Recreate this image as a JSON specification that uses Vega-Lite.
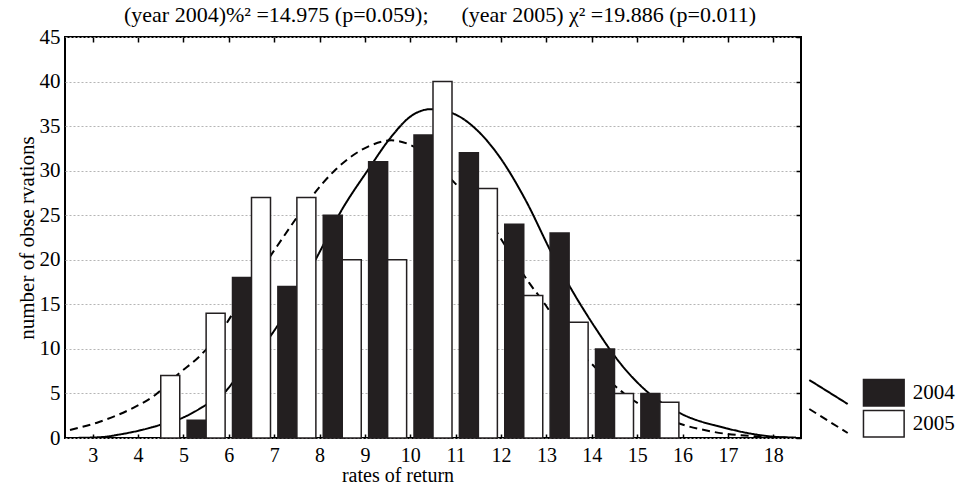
{
  "$schema": "https://vega.github.io/schema/vega-lite/v6.json",
  "autosize": {"type": "none"},
  "padding": {"left": 65, "top": 37, "right": 157, "bottom": 49},
  "width": 736,
  "height": 401,
  "background": "white",
  "title": {
    "text": "(year 2004)%² =14.975 (p=0.059);\u00a0\u00a0\u00a0\u00a0\u00a0\u00a0(year 2005) χ² =19.886 (p=0.011)",
    "fontSize": 22,
    "font": "Liberation Serif",
    "fontWeight": "normal",
    "color": "#000",
    "offset": -1,
    "anchor": "middle",
    "dx": 7
  },
  "config": {
    "font": "Liberation Serif",
    "view": {"stroke": "#000", "strokeWidth": 2},
    "axis": {
      "labelFont": "Liberation Serif",
      "titleFont": "Liberation Serif",
      "labelFontSize": 21,
      "labelColor": "#000",
      "titleFontSize": 21,
      "titleFontWeight": "normal",
      "titleColor": "#000",
      "tickColor": "#000",
      "domain": false
    },
    "legend": {"padding": 0, "labelFont": "Liberation Serif"}
  },
  "datasets": {
    "bars": [
      {"rate": 5.5, "year": "2004", "count": 2},
      {"rate": 6.5, "year": "2004", "count": 18},
      {"rate": 7.5, "year": "2004", "count": 17},
      {"rate": 8.5, "year": "2004", "count": 25},
      {"rate": 9.5, "year": "2004", "count": 31},
      {"rate": 10.5, "year": "2004", "count": 34},
      {"rate": 11.5, "year": "2004", "count": 32},
      {"rate": 12.5, "year": "2004", "count": 24},
      {"rate": 13.5, "year": "2004", "count": 23},
      {"rate": 14.5, "year": "2004", "count": 10},
      {"rate": 15.5, "year": "2004", "count": 5},
      {"rate": 4.5, "year": "2005", "count": 7},
      {"rate": 5.5, "year": "2005", "count": 14},
      {"rate": 6.5, "year": "2005", "count": 27},
      {"rate": 7.5, "year": "2005", "count": 27},
      {"rate": 8.5, "year": "2005", "count": 20},
      {"rate": 9.5, "year": "2005", "count": 20},
      {"rate": 10.5, "year": "2005", "count": 40},
      {"rate": 11.5, "year": "2005", "count": 28},
      {"rate": 12.5, "year": "2005", "count": 16},
      {"rate": 13.5, "year": "2005", "count": 13},
      {"rate": 14.5, "year": "2005", "count": 5},
      {"rate": 15.5, "year": "2005", "count": 4}
    ],
    "curves": [
      {"rate": 2.5, "value": 0.0, "series": "2004"},
      {"rate": 3.2, "value": 0.1, "series": "2004"},
      {"rate": 3.6, "value": 0.4, "series": "2004"},
      {"rate": 4.08, "value": 0.9, "series": "2004"},
      {"rate": 4.51, "value": 1.5, "series": "2004"},
      {"rate": 4.95, "value": 2.2, "series": "2004"},
      {"rate": 5.49, "value": 3.7, "series": "2004"},
      {"rate": 5.96, "value": 5.4, "series": "2004"},
      {"rate": 6.18, "value": 6.9, "series": "2004"},
      {"rate": 6.94, "value": 11.6, "series": "2004"},
      {"rate": 7.91, "value": 20.0, "series": "2004"},
      {"rate": 8.49, "value": 25.6, "series": "2004"},
      {"rate": 9.07, "value": 30.1, "series": "2004"},
      {"rate": 9.58, "value": 33.8, "series": "2004"},
      {"rate": 10.01, "value": 36.1, "series": "2004"},
      {"rate": 10.45, "value": 36.9, "series": "2004"},
      {"rate": 10.95, "value": 36.4, "series": "2004"},
      {"rate": 11.46, "value": 34.6, "series": "2004"},
      {"rate": 11.96, "value": 31.6, "series": "2004"},
      {"rate": 12.54, "value": 26.7, "series": "2004"},
      {"rate": 13.12, "value": 20.7, "series": "2004"},
      {"rate": 13.56, "value": 16.6, "series": "2004"},
      {"rate": 14.06, "value": 12.5, "series": "2004"},
      {"rate": 14.57, "value": 8.75, "series": "2004"},
      {"rate": 15.22, "value": 5.2, "series": "2004"},
      {"rate": 15.94, "value": 2.8, "series": "2004"},
      {"rate": 16.96, "value": 1.1, "series": "2004"},
      {"rate": 17.9, "value": 0.2, "series": "2004"},
      {"rate": 18.5, "value": 0.03, "series": "2004"},
      {"rate": 2.5, "value": 0.9, "series": "2005"},
      {"rate": 3.14, "value": 1.8, "series": "2005"},
      {"rate": 3.86, "value": 3.3, "series": "2005"},
      {"rate": 4.37, "value": 4.8, "series": "2005"},
      {"rate": 4.87, "value": 7.1, "series": "2005"},
      {"rate": 5.38, "value": 9.3, "series": "2005"},
      {"rate": 5.82, "value": 11.9, "series": "2005"},
      {"rate": 6.32, "value": 15.9, "series": "2005"},
      {"rate": 6.9, "value": 20.3, "series": "2005"},
      {"rate": 7.41, "value": 24.1, "series": "2005"},
      {"rate": 7.77, "value": 26.7, "series": "2005"},
      {"rate": 8.35, "value": 30.1, "series": "2005"},
      {"rate": 9.07, "value": 32.7, "series": "2005"},
      {"rate": 9.58, "value": 33.4, "series": "2005"},
      {"rate": 10.08, "value": 32.7, "series": "2005"},
      {"rate": 10.52, "value": 31.0, "series": "2005"},
      {"rate": 11.02, "value": 28.4, "series": "2005"},
      {"rate": 11.68, "value": 24.8, "series": "2005"},
      {"rate": 12.25, "value": 20.3, "series": "2005"},
      {"rate": 12.62, "value": 17.4, "series": "2005"},
      {"rate": 12.9, "value": 15.5, "series": "2005"},
      {"rate": 13.56, "value": 10.6, "series": "2005"},
      {"rate": 14.06, "value": 8.0, "series": "2005"},
      {"rate": 14.71, "value": 5.0, "series": "2005"},
      {"rate": 15.73, "value": 2.0, "series": "2005"},
      {"rate": 16.67, "value": 0.7, "series": "2005"},
      {"rate": 17.75, "value": 0.15, "series": "2005"},
      {"rate": 18.5, "value": 0.03, "series": "2005"}
    ]
  },
  "resolve": {"axis": {"x": "independent", "y": "independent"}},
  "layer": [
    {
      "data": {"name": "curves"},
      "mark": {"type": "line", "interpolate": "monotone", "stroke": "#000", "strokeWidth": 2, "clip": true},
      "encoding": {
        "x": {"field": "rate", "type": "quantitative", "scale": {"domain": [2.5, 18.5], "nice": false, "zero": false},
              "axis": {"orient": "bottom", "values": [3,4,5,6,7,8,9,10,11,12,13,14,15,16,17,18], "tickSize": -4, "tickWidth": 1.5, "labelFontSize": 20, "labelPadding": 11, "grid": false, "title": "rates of return", "titleFontSize": 20, "titlePadding": 0, "titleX": 332.5}},
        "y": {"field": "value", "type": "quantitative", "scale": {"domain": [0, 45], "nice": false},
              "axis": {"orient": "left", "values": [0,5,10,15,20,25,30,35,40,45], "ticks": false, "labelPadding": 5, "grid": true, "gridDash": [2, 2], "gridColor": "#b5b5b5", "gridWidth": 1, "title": "number of obse rvations", "titlePadding": 2}},
        "strokeDash": {"field": "series", "type": "nominal",
          "scale": {"domain": ["2004", "2005"], "range": [[1, 0], [8, 5]]},
          "legend": {"orient": "none", "legendX": 750.5, "legendY": 342, "title": null, "labelExpr": "''", "labelOffset": 0,
                     "symbolType": "M-1.6,-1L1.6,1", "symbolSize": 576, "symbolStrokeWidth": 2, "symbolStrokeColor": "#000", "symbolFillColor": "transparent", "rowPadding": -4}}
      }
    },
    {
      "data": {"name": "bars"},
      "transform": [{"filter": "datum.year == '2004'"}],
      "mark": {"type": "bar", "size": 19, "xOffset": -9.5, "stroke": "#231f20", "strokeWidth": 1.5},
      "encoding": {
        "x": {"field": "rate", "type": "quantitative", "scale": {"domain": [2.5, 18.5], "nice": false, "zero": false},
              "axis": {"orient": "top", "values": [3,4,5,6,7,8,9,10,11,12,13,14,15,16,17,18], "labels": false, "tickSize": -5, "tickWidth": 1.5, "grid": false, "title": null}},
        "y": {"field": "count", "type": "quantitative", "scale": {"domain": [0, 45], "nice": false},
              "axis": {"orient": "right", "values": [0,5,10,15,20,25,30,35,40,45], "labels": false, "tickSize": -5, "tickWidth": 1.5, "grid": false, "title": null}},
        "fill": {"field": "year", "type": "nominal",
          "scale": {"range": ["#231f20", "#ffffff"]},
          "legend": {"orient": "none", "legendX": 804.8, "legendY": 341.7, "title": null,
                     "symbolType": "M-1.54,-1H1.54V1H-1.54Z", "symbolSize": 697, "symbolStrokeColor": "#231f20", "symbolStrokeWidth": 1.5,
                     "labelFontSize": 21, "labelColor": "#000", "labelOffset": 15, "rowPadding": -3}}
      }
    },
    {
      "data": {"name": "bars"},
      "transform": [{"filter": "datum.year == '2005'"}],
      "mark": {"type": "bar", "size": 19, "xOffset": 9.5, "stroke": "#231f20", "strokeWidth": 1.5},
      "encoding": {
        "x": {"field": "rate", "type": "quantitative", "scale": {"domain": [2.5, 18.5], "nice": false, "zero": false}, "axis": null},
        "y": {"field": "count", "type": "quantitative", "scale": {"domain": [0, 45], "nice": false}, "axis": null},
        "fill": {"field": "year", "type": "nominal",
          "scale": {"range": ["#231f20", "#ffffff"]}}
      }
    }
  ]
}
